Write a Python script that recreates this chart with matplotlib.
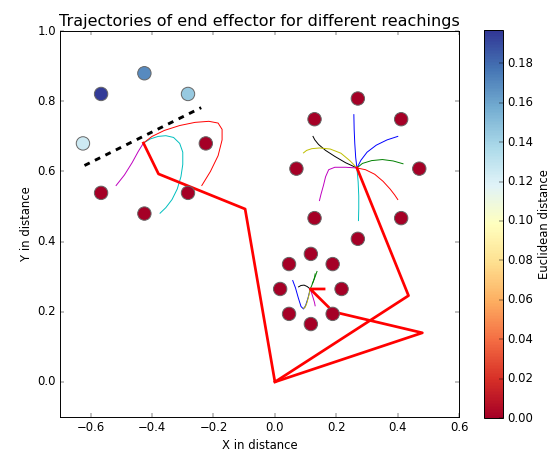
import matplotlib
matplotlib.use('Agg')
import matplotlib.pyplot as plt
import numpy as np

# Target points (x, y) and their euclidean distance error
target_x = [-0.225, -0.283, -0.425, -0.566, -0.625, -0.566, -0.425, -0.283,
            0.470, 0.411, 0.270, 0.129, 0.070, 0.129, 0.270, 0.411,
            0.217, 0.188, 0.117, 0.046, 0.017, 0.046, 0.117, 0.188]
target_y = [0.680, 0.821, 0.880, 0.821, 0.680, 0.539, 0.480, 0.539,
            0.608, 0.749, 0.808, 0.749, 0.608, 0.467, 0.408, 0.467,
            0.265, 0.336, 0.365, 0.336, 0.265, 0.194, 0.165, 0.194]
target_err = [0.0, 0.145, 0.170, 0.195, 0.125, 0.0, 0.0, 0.0,
              0.0, 0.0, 0.0, 0.0, 0.0, 0.0, 0.0, 0.0,
              0.0, 0.0, 0.0, 0.0, 0.0, 0.0, 0.0, 0.0]

# Base trajectory of the end effector (thick red)
path1_x = [-0.428, -0.379, -0.097, 0.0, 0.435, 0.267]
path1_y = [0.681, 0.593, 0.493, 0.0, 0.246, 0.610]
path2_x = [0.0, 0.480, 0.190, 0.115, 0.160]
path2_y = [0.0, 0.140, 0.200, 0.265, 0.265]

# Obstacle boundary (dashed)
wall_x = [-0.62, -0.24]
wall_y = [0.617, 0.782]

# Reaching trajectories, one per colour, for each cluster
reach = [
    # left cluster
    ('m', [-0.428, -0.445, -0.465, -0.490, -0.517], [0.681, 0.657, 0.625, 0.590, 0.560]),
    ('c', [-0.428, -0.405, -0.380, -0.355, -0.330, -0.310, -0.300, -0.300, -0.306,
           -0.318, -0.335, -0.355, -0.374],
          [0.681, 0.693, 0.700, 0.702, 0.697, 0.680, 0.655, 0.620, 0.585,
           0.550, 0.520, 0.497, 0.481]),
    ('r', [-0.428, -0.400, -0.360, -0.310, -0.260, -0.215, -0.185, -0.172, -0.172,
           -0.185, -0.210, -0.238],
          [0.681, 0.700, 0.717, 0.731, 0.740, 0.743, 0.738, 0.720, 0.690,
           0.645, 0.600, 0.560]),
    # upper right cluster
    ('b', [0.267, 0.263, 0.260, 0.258, 0.257], [0.610, 0.640, 0.680, 0.720, 0.762]),
    ('b', [0.267, 0.280, 0.300, 0.330, 0.365, 0.400], [0.610, 0.632, 0.655, 0.675, 0.690, 0.700]),
    ('k', [0.267, 0.230, 0.195, 0.165, 0.142, 0.130, 0.124], [0.610, 0.625, 0.643, 0.660, 0.677, 0.690, 0.700]),
    ('y', [0.267, 0.245, 0.215, 0.180, 0.145, 0.120, 0.103, 0.093],
          [0.610, 0.630, 0.652, 0.664, 0.667, 0.665, 0.660, 0.653]),
    ('g', [0.267, 0.285, 0.315, 0.350, 0.385, 0.417], [0.610, 0.623, 0.631, 0.634, 0.630, 0.622]),
    ('m', [0.267, 0.230, 0.195, 0.175, 0.165, 0.158, 0.150, 0.145],
          [0.610, 0.612, 0.612, 0.605, 0.585, 0.560, 0.535, 0.517]),
    ('r', [0.267, 0.295, 0.325, 0.352, 0.375, 0.390, 0.400], [0.610, 0.605, 0.592, 0.572, 0.550, 0.533, 0.520]),
    ('c', [0.267, 0.271, 0.273, 0.273, 0.272], [0.610, 0.570, 0.530, 0.495, 0.460]),
    # lower cluster
    ('b', [0.115, 0.108, 0.100, 0.093, 0.085, 0.076, 0.067, 0.058],
          [0.265, 0.240, 0.218, 0.208, 0.215, 0.240, 0.268, 0.289]),
    ('y', [0.115, 0.110, 0.104, 0.098, 0.092], [0.265, 0.245, 0.225, 0.212, 0.210]),
    ('k', [0.115, 0.105, 0.095, 0.085, 0.077], [0.265, 0.272, 0.276, 0.275, 0.271]),
    ('g', [0.115, 0.120, 0.125, 0.129, 0.131], [0.265, 0.275, 0.287, 0.298, 0.308]),
    ('g', [0.122, 0.128, 0.133, 0.137], [0.280, 0.293, 0.305, 0.315]),
    ('m', [0.115, 0.120, 0.125, 0.129, 0.131], [0.265, 0.252, 0.238, 0.226, 0.217]),
]

dist_ticks = [0.00, 0.02, 0.04, 0.06, 0.08, 0.10, 0.12, 0.14, 0.16, 0.18]

plt.style.use('classic')
plt.rcParams['figure.facecolor'] = 'white'
plt.rcParams['savefig.facecolor'] = 'white'

fig = plt.figure(figsize=(8, 6.5), dpi=70)
ax = fig.add_axes([0.107, 0.0835, 0.713, 0.848])
cax = fig.add_axes([0.864, 0.0813, 0.034, 0.853])

for col, xs, ys in reach:
    ax.plot(xs, ys, color=col, lw=1)

ax.plot(path1_x, path1_y, color='r', lw=2.8)
ax.plot(path2_x, path2_y, color='r', lw=2.8)
ax.plot(wall_x, wall_y, 'k--', lw=3)

sc = ax.scatter(target_x, target_y, c=target_err, cmap='RdYlBu', vmin=0, vmax=0.197,
                s=190, edgecolors='0.4', linewidths=1, zorder=5)

ax.set_xlim(-0.7, 0.6)
ax.set_ylim(-0.1, 1.0)
ax.set_xticks([-0.6, -0.4, -0.2, 0.0, 0.2, 0.4, 0.6])
ax.set_yticks([0.0, 0.2, 0.4, 0.6, 0.8, 1.0])
ax.set_xlabel('X in distance')
ax.set_ylabel('Y in distance')
ax.set_title('Trajectories of end effector for different reachings', fontsize=16.5)

cb = fig.colorbar(sc, cax=cax, ticks=dist_ticks, format='%.2f')
cb.set_label('Euclidean distance')

fig.savefig('out.png', dpi=70)
